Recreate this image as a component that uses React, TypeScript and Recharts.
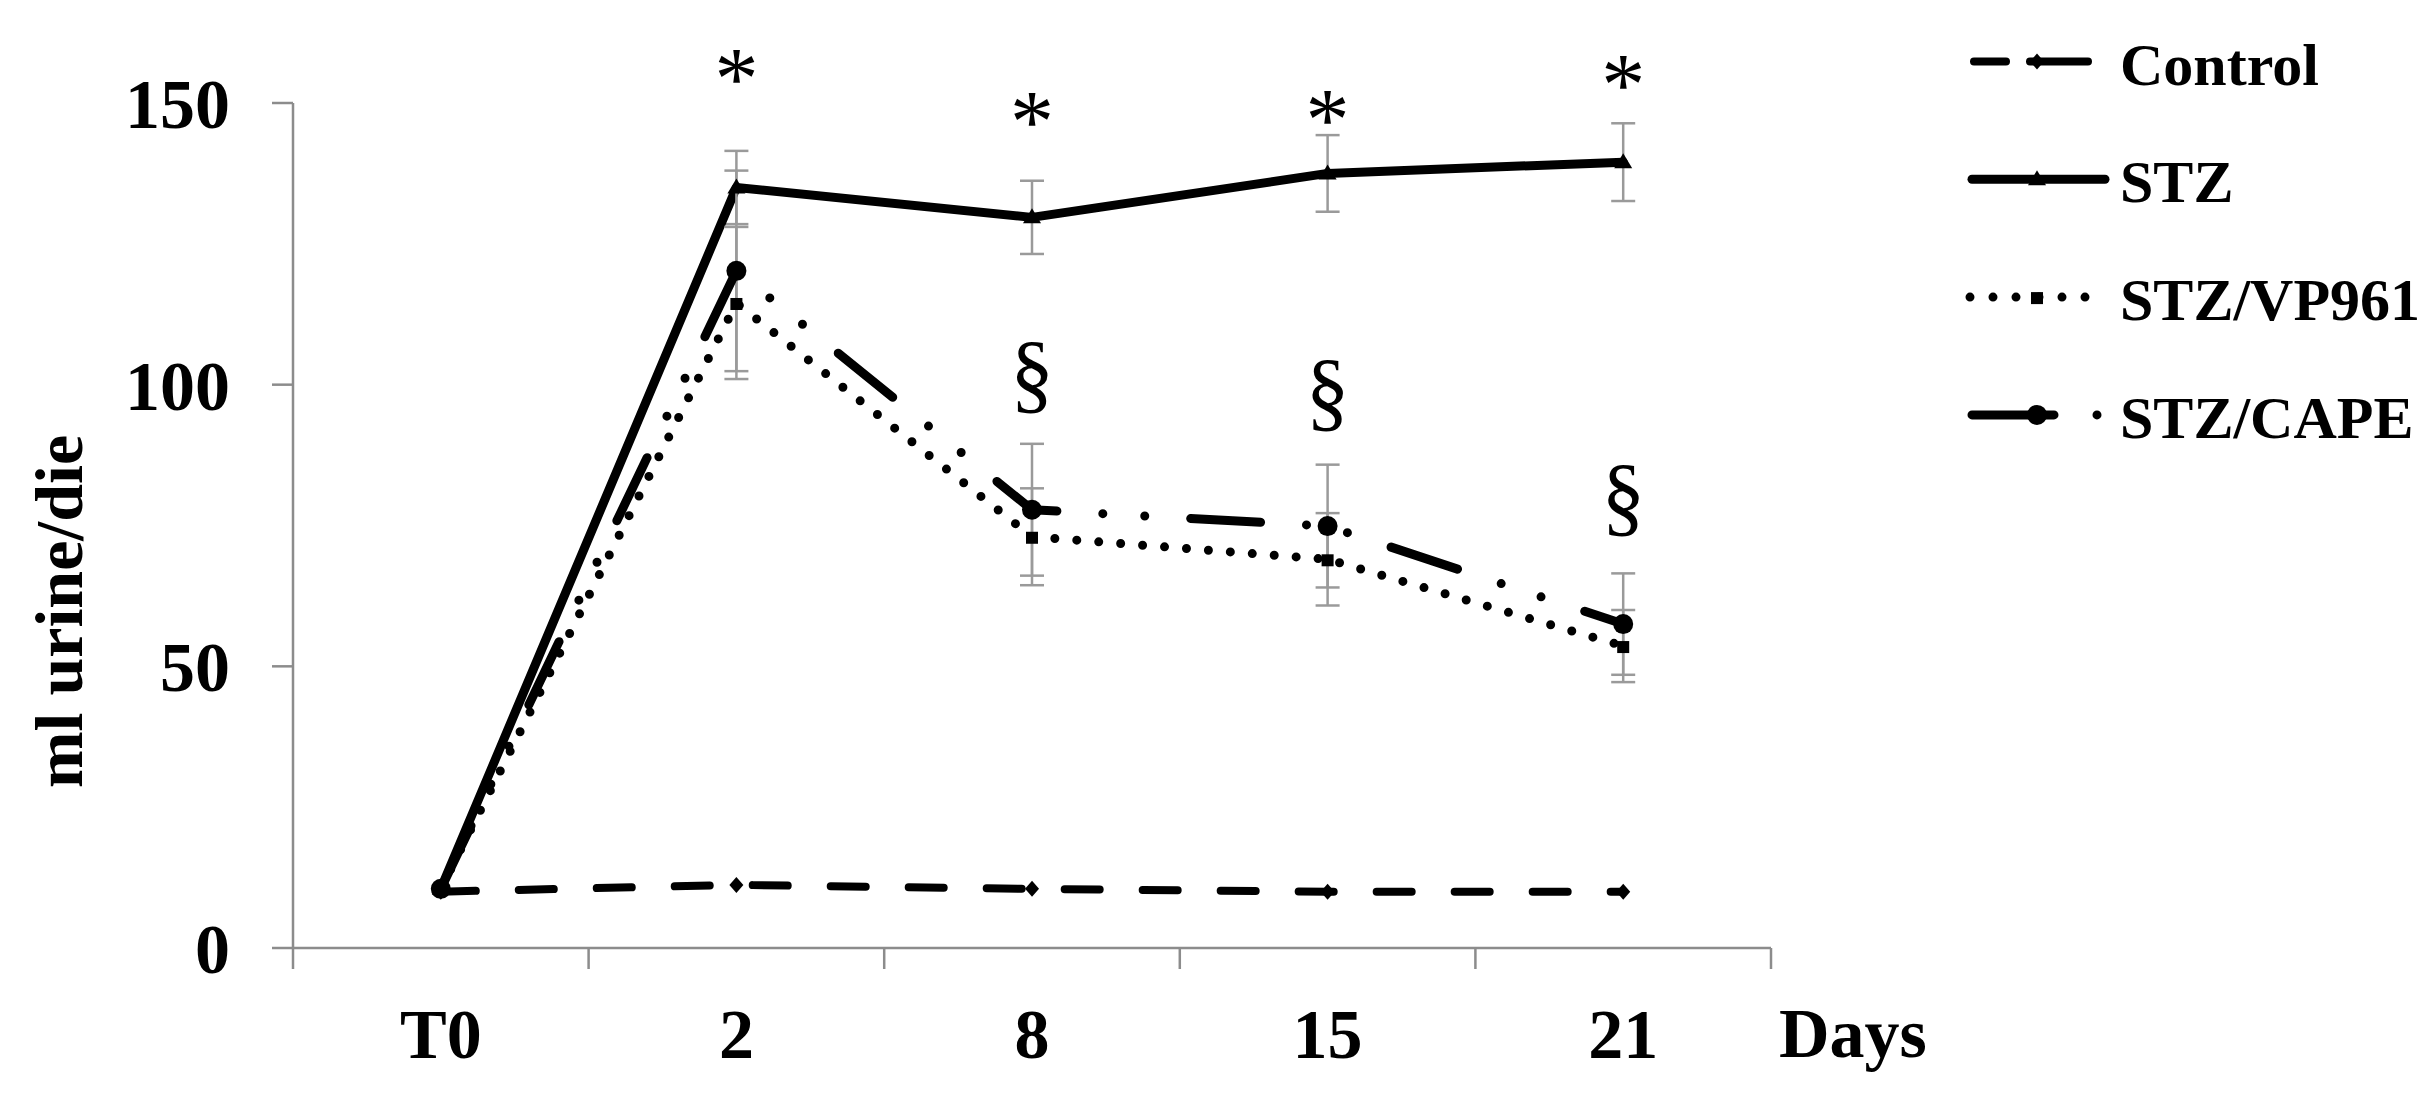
import React from 'react';
import { LineChart, Line, XAxis, YAxis, ErrorBar, Legend, ReferenceDot, Label } from 'recharts';

// ---- data ----
const days = ['T0', '2', '8', '15', '21'];
const control = [10, 11.2, 10.5, 10, 10];
const stz = [10.5, 135, 129.7, 137.5, 139.5];
const stzErr = [0, 6.5, 6.5, 6.8, 6.9];
const vp961 = [10.5, 114.5, 73, 69, 53.6];
const vp961Err = [0, 13.5, 8.6, 8.2, 6.4];
const cape = [10.5, 120.2, 77.8, 74.9, 57.5];
const capeErr = [0, 17.8, 11.7, 10.9, 9];
const yTicks = [0, 50, 100, 150];
const starDays = ['2', '8', '15', '21'];
const starLevels = [156.8, 149.1, 149.4, 155.6];
const sectionDays = ['8', '15', '21'];
const sectionLevels = [101.2, 98, 79.4];

const data = days.map((d, i) => ({
  day: d,
  control: control[i],
  stz: stz[i],
  stzErr: stzErr[i],
  vp961: vp961[i],
  vp961Err: vp961Err[i],
  cape: cape[i],
  capeErr: capeErr[i],
}));

const SERIF = '"Liberation Serif", "Times New Roman", serif';
const AXIS_GREY = '#8c8c8c';
const X_TICK_MARGIN = 60;
const X_TICK_LEN = 21;

type Kind = 'diamond' | 'triangle' | 'square' | 'circle';
const SERIES: {
  key: string;
  err?: string;
  name: string;
  dash?: string;
  legendDash?: string;
  width: number;
  marker: Kind;
  legendX1: number;
  legendX2: number;
}[] = [
  { key: 'control', name: 'Control', dash: '35 43', legendDash: '32 24 58 100', width: 8, marker: 'diamond', legendX1: 24, legendX2: 138 },
  { key: 'stz', err: 'stzErr', name: 'STZ', dash: undefined, legendDash: undefined, width: 9, marker: 'triangle', legendX1: 22, legendX2: 155 },
  { key: 'vp961', err: 'vp961Err', name: 'STZ/VP961', dash: '0 22', legendDash: '0 23', width: 9, marker: 'square', legendX1: 20, legendX2: 136 },
  { key: 'cape', err: 'capeErr', name: 'STZ/CAPE', dash: '70 46 0 42 0 46', legendDash: '82 43 0 100', width: 9, marker: 'circle', legendX1: 22, legendX2: 149 },
];

function Marker({ kind, cx, cy }: { kind: Kind; cx: number; cy: number }) {
  if (cx == null || cy == null) return null;
  switch (kind) {
    case 'diamond':
      return <polygon points={`${cx},${cy - 8} ${cx + 7},${cy} ${cx},${cy + 8} ${cx - 7},${cy}`} fill="#000" />;
    case 'triangle':
      return <polygon points={`${cx},${cy - 9} ${cx + 9},${cy + 6} ${cx - 9},${cy + 6}`} fill="#000" />;
    case 'square':
      return <rect x={cx - 6} y={cy - 5} width={12} height={12} fill="#000" />;
    default:
      return <circle cx={cx} cy={cy} r={10} fill="#000" />;
  }
}

const renderLegend = () => (
  <svg width={486} height={480} style={{ display: 'block' }}>
    {SERIES.map((s, i) => {
      const y = 61.5 + i * 117.8;
      return (
        <g key={s.key}>
          <line
            x1={s.legendX1}
            x2={s.legendX2}
            y1={y}
            y2={y}
            stroke="#000"
            strokeWidth={s.width}
            strokeDasharray={s.legendDash}
            strokeLinecap="round"
          />
          <Marker kind={s.marker} cx={87} cy={y} />
          <text x={170} y={y + 23} fontFamily={SERIF} fontWeight={700} fontSize={60} fill="#000">
            {s.name}
          </text>
        </g>
      );
    })}
  </svg>
);

const YTitle = (props: any) => {
  const vb = props.viewBox || { x: 0, y: 0, height: 0 };
  const cx = vb.x + 82;
  const cy = vb.y + vb.height / 2 + 86;
  return (
    <text
      x={cx}
      y={cy}
      transform={`rotate(-90 ${cx} ${cy})`}
      textAnchor="middle"
      fontFamily={SERIF}
      fontWeight={700}
      fontSize={68}
      fill="#000"
    >
      ml urine/die
    </text>
  );
};

const DaysTitle = (props: any) => {
  const vb = props.viewBox || { x: 0, y: 0, width: 0 };
  return (
    <text x={vb.x + vb.width + 8} y={vb.y + 109} fontFamily={SERIF} fontWeight={700} fontSize={70} fill="#000">
      Days
    </text>
  );
};

// category tick: label at band centre, tick marks at band boundaries (Excel style)
const CatTick = (props: any) => {
  const { x, y, payload, index, visibleTicksCount } = props;
  const off = payload && typeof payload.offset === 'number' ? payload.offset : 0;
  const axisY = y - X_TICK_MARGIN;
  const isLast = index === visibleTicksCount - 1;
  return (
    <g>
      <line x1={x - off} x2={x - off} y1={axisY} y2={axisY + X_TICK_LEN} stroke={AXIS_GREY} strokeWidth={2.5} />
      {isLast ? (
        <line x1={x + off} x2={x + off} y1={axisY} y2={axisY + X_TICK_LEN} stroke={AXIS_GREY} strokeWidth={2.5} />
      ) : null}
      <text x={x} y={y} dy="0.71em" textAnchor="middle" fontFamily={SERIF} fontWeight={700} fontSize={70} fill="#000">
        {payload.value}
      </text>
    </g>
  );
};

const symbolShape = (sym: string, baselineShift: number) => (p: any) => (
  <text x={p.cx} y={p.cy + baselineShift} textAnchor="middle" fontFamily={SERIF} fontSize={88} fill="#000">
    {sym}
  </text>
);

export default function App() {
  return (
    <div style={{ position: 'absolute', left: 0, top: 0, width: 2436, height: 1101, background: '#fff' }}>
      <LineChart width={2436} height={1101} data={data} margin={{ top: 103, right: 665, bottom: 0, left: 0 }}>
        <XAxis
          dataKey="day"
          scale="band"
          height={153}
          axisLine={{ stroke: AXIS_GREY, strokeWidth: 2.5 }}
          tickLine={false}
          tickSize={0}
          tickMargin={X_TICK_MARGIN}
          interval={0}
          tick={<CatTick />}
        >
          <Label content={DaysTitle} />
        </XAxis>
        <YAxis
          domain={[0, 150]}
          ticks={yTicks}
          width={293}
          tickSize={21}
          tickMargin={42}
          axisLine={{ stroke: AXIS_GREY, strokeWidth: 2.5 }}
          tickLine={{ stroke: AXIS_GREY, strokeWidth: 2.5 }}
          tick={{ fill: '#000', fontSize: 70, fontWeight: 700, fontFamily: SERIF }}
        >
          <Label content={YTitle} />
        </YAxis>
        <Legend
          layout="horizontal"
          verticalAlign="middle"
          align="center"
          content={renderLegend}
          wrapperStyle={{ left: 1950, top: 0, width: 486, height: 480 }}
        />
        {SERIES.map((s) => (
          <Line
            key={s.key}
            dataKey={s.key}
            name={s.name}
            type="linear"
            stroke="#000"
            strokeWidth={s.width}
            strokeDasharray={s.dash}
            strokeLinecap="round"
            strokeLinejoin="round"
            isAnimationActive={false}
            dot={(p: any) => <Marker key={`${s.key}-${p.index}`} kind={s.marker} cx={p.cx} cy={p.cy} />}
            activeDot={false}
          >
            {s.err ? <ErrorBar dataKey={s.err} width={12} stroke="#9a9a9a" strokeWidth={2.5} direction="y" /> : null}
          </Line>
        ))}
        {starDays.map((d, i) => (
          <ReferenceDot
            key={`star-${d}`}
            x={d}
            y={starLevels[i]}
            r={0}
            ifOverflow="visible"
            shape={symbolShape('*', 43)}
          />
        ))}
        {sectionDays.map((d, i) => (
          <ReferenceDot
            key={`sec-${d}`}
            x={d}
            y={sectionLevels[i]}
            r={0}
            ifOverflow="visible"
            shape={symbolShape('§', 24)}
          />
        ))}
      </LineChart>
    </div>
  );
}
